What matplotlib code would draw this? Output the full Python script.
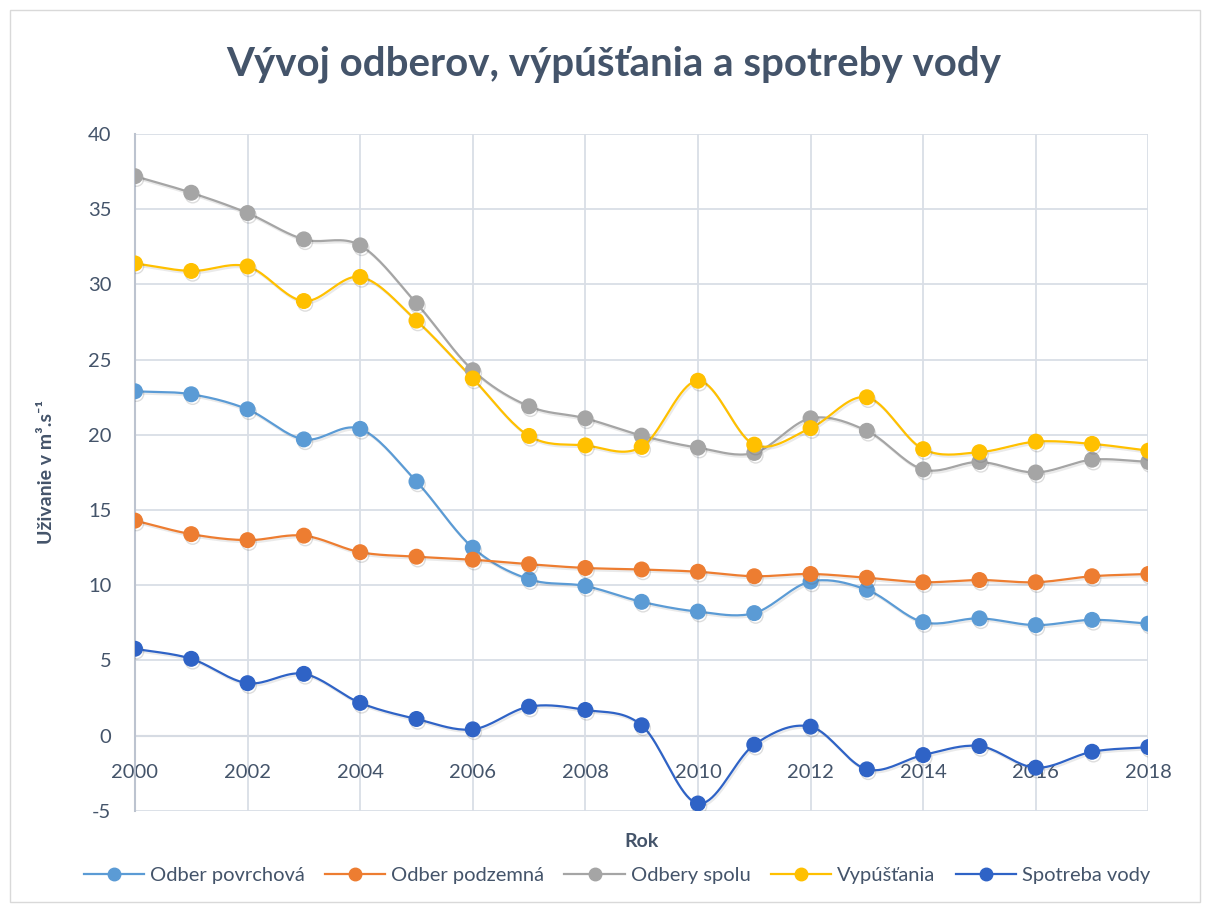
import numpy as np
import matplotlib
matplotlib.use("Agg")
import matplotlib.pyplot as plt
import matplotlib.patheffects as pe
from matplotlib.patches import Rectangle

# =========================
# Data
# =========================
years = list(range(2000, 2019))

odber_povrchova = [22.9, 22.7, 21.7, 19.7, 20.4, 16.9, 12.5, 10.4, 9.95, 8.9,
                   8.25, 8.15, 10.25, 9.7, 7.55, 7.8, 7.35, 7.7, 7.45]
odber_podzemna = [14.3, 13.4, 13.0, 13.3, 12.2, 11.9, 11.7, 11.4, 11.15, 11.05,
                  10.9, 10.6, 10.75, 10.5, 10.2, 10.35, 10.2, 10.6, 10.75]
odbery_spolu = [37.2, 36.1, 34.75, 33.0, 32.6, 28.75, 24.3, 21.9, 21.1, 19.95,
                19.15, 18.8, 21.1, 20.27, 17.7, 18.2, 17.5, 18.35, 18.2]
vypustania = [31.4, 30.9, 31.2, 28.9, 30.5, 27.6, 23.75, 19.93, 19.3, 19.2,
              23.6, 19.35, 20.45, 22.5, 19.05, 18.85, 19.55, 19.4, 18.95]
spotreba_vody = [5.78, 5.11, 3.49, 4.11, 2.18, 1.11, 0.42, 1.93, 1.71, 0.69,
                 -4.51, -0.6, 0.6, -2.24, -1.29, -0.69, -2.13, -1.07, -0.76]

series_names = ["Odber povrchová", "Odber podzemná", "Odbery spolu",
                "Vypúšťania", "Spotreba vody"]
series_values = [odber_povrchova, odber_podzemna, odbery_spolu,
                 vypustania, spotreba_vody]
series_colors = ["#5B9BD5", "#ED7D31", "#A5A5A5", "#FFC000", "#2F63C6"]

text_color = "#44546A"
grid_color = "#D9DEE6"

plt.rcParams["font.family"] = ["Lato", "DejaVu Sans"]
plt.rcParams["axes.unicode_minus"] = False


def smooth(x, y, steps=20):
    # Catmull-Rom curve through the points (Excel style smoothed line)
    x = np.asarray(x, float)
    y = np.asarray(y, float)
    px = np.concatenate([[2 * x[0] - x[1]], x, [2 * x[-1] - x[-2]]])
    py = np.concatenate([[2 * y[0] - y[1]], y, [2 * y[-1] - y[-2]]])
    xs, ys = [], []
    t = np.linspace(0, 1, steps, endpoint=False)
    for i in range(1, len(px) - 2):
        for arr, out in ((px, xs), (py, ys)):
            p0, p1, p2, p3 = arr[i - 1], arr[i], arr[i + 1], arr[i + 2]
            out.extend(0.5 * ((2 * p1) + (-p0 + p2) * t
                              + (2 * p0 - 5 * p1 + 4 * p2 - p3) * t ** 2
                              + (-p0 + 3 * p1 - 3 * p2 + p3) * t ** 3))
    xs.append(x[-1])
    ys.append(y[-1])
    return np.array(xs), np.array(ys)


fig = plt.figure(figsize=(12.05, 9.06), dpi=100)
fig.patches.append(Rectangle((0.008, 0.004), 0.988, 0.985, transform=fig.transFigure,
                             fill=False, edgecolor="#D9D9D9", linewidth=1))
ax = fig.add_axes([0.112, 0.105, 0.841, 0.747])

line_shadow = [pe.SimpleLineShadow(offset=(1, -1.5), alpha=0.12, shadow_color="#555555"),
               pe.Normal()]
marker_shadow = [pe.SimpleLineShadow(offset=(1, -2), alpha=0.2, shadow_color="#555555"),
                 pe.Normal()]

for name, vals, col in zip(series_names, series_values, series_colors):
    sx, sy = smooth(years, vals)
    ax.plot(sx, sy, color=col, linewidth=1.6, zorder=3, path_effects=line_shadow)
    ax.plot(years, vals, linestyle="none", marker="o", markersize=10.5,
            color=col, markeredgecolor=col, zorder=4, path_effects=marker_shadow)
    ax.plot([], [], color=col, linewidth=1.6, marker="o", markersize=9,
            label=name)

ax.set_xlim(2000, 2018)
ax.set_ylim(-5, 40)
ax.set_xticks(range(2000, 2019, 2))
ax.set_yticks(range(-5, 41, 5))
ax.grid(True, color=grid_color, linewidth=1.3, zorder=0)
ax.axhline(0, color="#BCC3CF", linewidth=1.5, zorder=1)

for side in ["top", "right", "bottom"]:
    ax.spines[side].set_visible(False)
ax.spines["left"].set_color("#BCC3CF")
ax.spines["left"].set_linewidth(1.5)

ax.tick_params(axis="both", length=0, labelsize=14.5, labelcolor=text_color)
ax.tick_params(axis="y", pad=17)
# x labels sit just under the zero line
ax.tick_params(axis="x", pad=-34)

ax.set_xlabel("Rok", fontsize=14, fontweight="bold", color=text_color, labelpad=16)
ax.set_ylabel("Uživanie v m³.s⁻¹", fontsize=14, fontweight="bold",
              color=text_color, labelpad=24)

fig.suptitle("Vývoj odberov, výpúšťania a spotreby vody", x=0.509, y=0.950,
             fontsize=29, fontweight="bold", color=text_color)

leg = fig.legend(loc="center", bbox_to_anchor=(0.512, 0.034), ncol=5,
                 frameon=False, fontsize=14.5, handlelength=3.0,
                 columnspacing=1.0, handletextpad=0.3)
for t in leg.get_texts():
    t.set_color(text_color)

fig.savefig("out.png", dpi=100)
